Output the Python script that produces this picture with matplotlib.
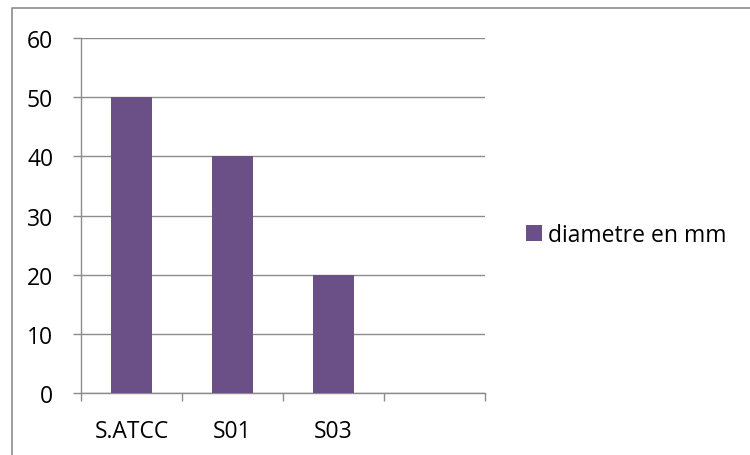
import matplotlib.pyplot as plt
from matplotlib.lines import Line2D
from matplotlib.patches import Patch
import numpy as np

# Données
categories = ['S.ATCC', 'S01', 'S03', '']
diametres = [50, 40, 20]
serie = 'diametre en mm'

couleur_barre = '#6A5087'
gris = '#8C8C8C'

plt.rcParams['font.family'] = ['Open Sans', 'DejaVu Sans']
taille = 16.5

fig = plt.figure(figsize=(7.5, 4.56), dpi=100)
W, H = 750, 456
ax = fig.add_axes([81 / W, 1 - 394 / H, (485 - 81) / W, (394 - 39) / H])

x = np.arange(len(categories))
ax.bar(x[:len(diametres)], diametres, width=0.4, color=couleur_barre, zorder=3)

# Axes
ax.set_xlim(-0.5, len(categories) - 0.5)
ax.set_ylim(0, 60)
ax.set_yticks(np.arange(0, 61, 10))
ax.set_xticks(x)
ax.set_xticklabels(categories)
ax.set_xticks(np.arange(-0.5, len(categories), 1), minor=True)
ax.tick_params(axis='x', which='major', length=0, pad=19, labelsize=taille)
ax.tick_params(axis='x', which='minor', length=6, width=1, color=gris, direction='out')
ax.tick_params(axis='y', length=6, width=1, color=gris, pad=14, labelsize=taille)

ax.grid(axis='y', color=gris, linewidth=1, zorder=0)
for s in ['top', 'right']:
    ax.spines[s].set_visible(False)
for s in ['left', 'bottom']:
    ax.spines[s].set_color(gris)
    ax.spines[s].set_linewidth(1)

# Légende
poignee = Patch(facecolor=couleur_barre, edgecolor='none')
fig.legend([poignee], [serie], loc='center left',
           bbox_to_anchor=(526 / W, 1 - 236 / H), frameon=False,
           fontsize=taille, handlelength=0.7, handleheight=0.7,
           handletextpad=0.25, borderpad=0, borderaxespad=0)

# Cadre extérieur
fig.add_artist(Line2D([12 / W, 12 / W, 1], [0, 1 - 9 / H, 1 - 9 / H],
                      transform=fig.transFigure, color=gris, linewidth=1.2))

plt.savefig('out.png')
